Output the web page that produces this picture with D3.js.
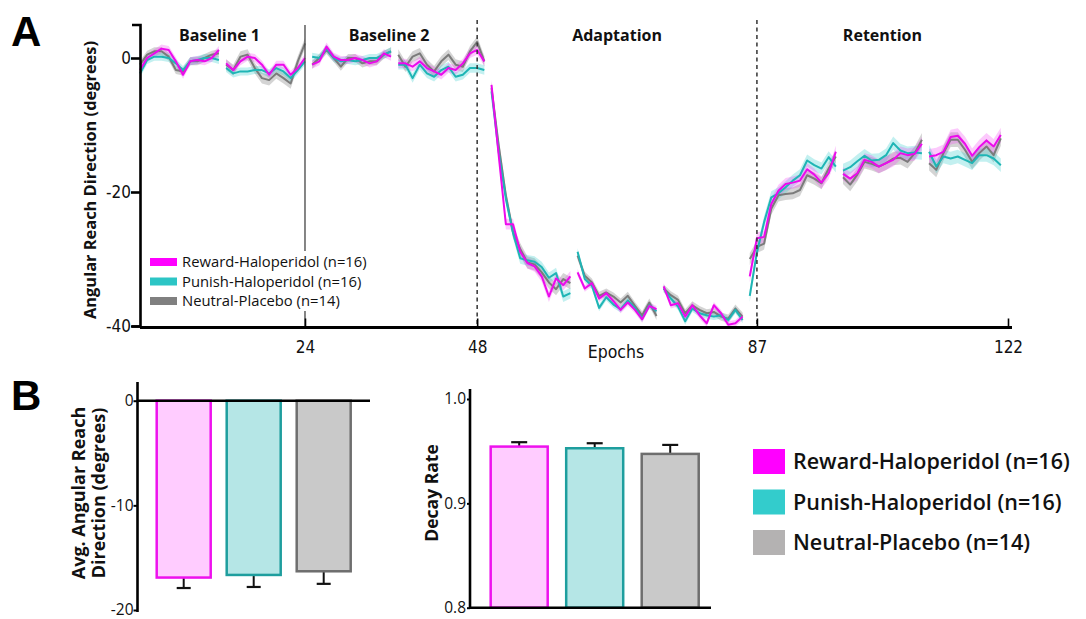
<!DOCTYPE html>
<html><head><meta charset="utf-8">
<script src="https://cdn.jsdelivr.net/npm/d3@7"></script>
<style>body{margin:0;background:#fff}svg{display:block}</style>
</head><body><svg id="c" width="1086" height="619"></svg>
<script>
// ---------- DATA ----------
const groups = ["Reward-Haloperidol (n=16)", "Punish-Haloperidol (n=16)", "Neutral-Placebo (n=14)"];
const segStarts = [1, 13, 25, 37, 50, 62, 74, 86, 99, 111];
const phaseLabels = ["Baseline 1", "Baseline 2", "Adaptation", "Retention"];
const phaseBounds = [1, 24, 48, 87, 122];
const xTicks = [24, 48, 87, 122];
const yTicksA = [0, -20, -40];

const rewardSeg = [
  [-1.8, 0, 0.7, 1.4, 1.2, -0.5, -2.5, -0.5, -0.3, -0.5, 0, 1.2],
  [-0.8, -1.8, -0.5, 0.2, 0, -1.0, -2.5, -1.0, -1.0, -2.5, -1.5, 0],
  [-1.0, -0.5, 1.7, 0.2, -0.3, -0.3, 0, -0.3, -0.8, -0.5, 0.7, 0.2],
  [-0.8, -0.8, -1.3, -0.5, -1.5, -2.0, -2.5, -1.5, -1.8, -0.8, 0.7, 1.2, -0.5],
  [-4.0, -14.5, -24.8, -24.8, -28.9, -30.6, -31.1, -32.6, -35.6, -32.9, -33.9, -32.6],
  [-32.0, -34.4, -33.6, -35.9, -35.1, -36.3, -37.6, -36.5, -37.6, -39.0, -37.0, -37.5],
  [-34.1, -36.9, -36.6, -38.6, -36.9, -38.4, -39.6, -36.9, -38.1, -39.8, -39.6, -38.6],
  [-32.6, -26.9, -26.7, -21.8, -19.8, -18.8, -18.6, -18.3, -16.6, -17.4, -18.6, -17.2, -14.0],
  [-17.3, -18.0, -17.2, -15.2, -15.5, -16.2, -15.7, -15.2, -14.2, -14.5, -14.3, -12.8],
  [-14.7, -14.5, -14.0, -11.8, -11.6, -12.8, -14.6, -13.3, -12.3, -13.2, -11.5]
];
const punishSeg = [
  [-2.3, -0.3, 0.2, 0.2, 0, -0.8, -1.8, -0.5, -0.3, 0, 0, -0.3],
  [-1.5, -2.3, -2.0, -2.0, -1.8, -1.8, -2.3, -1.5, -2.0, -3.0, -1.8, -0.5],
  [0.2, 0, 1.4, 0, -0.5, -0.3, -0.5, -0.3, 0, 0, 0.5, 1.0],
  [-1.0, -1.0, -3.0, -1.0, -2.3, -2.8, -1.8, -1.3, -2.8, -2.5, -1.5, -1.5, -1.8],
  [-5.0, -14.0, -21.0, -26.1, -29.9, -30.2, -30.4, -31.2, -32.8, -32.1, -35.6, -35.1],
  [-28.9, -33.0, -34.0, -37.3, -35.7, -36.8, -37.5, -36.2, -37.3, -38.9, -36.9, -37.8],
  [-34.4, -35.9, -37.1, -39.3, -37.4, -38.1, -38.4, -38.6, -38.4, -39.1, -37.6, -39.1],
  [-35.5, -29.0, -24.5, -20.8, -20.2, -19.3, -18.3, -17.5, -15.3, -16.0, -16.5, -14.8, -16.2],
  [-16.8, -16.3, -15.4, -14.6, -15.3, -15.2, -14.5, -12.7, -13.8, -14.2, -14.1, -14.2],
  [-14.0, -16.2, -14.7, -15.0, -14.7, -15.2, -15.7, -14.5, -14.5, -15.0, -16.0]
];
const neutralSeg = [
  [-1.0, 0.5, 1.0, 1.0, 0.2, -1.8, -2.0, -0.5, -0.5, 0, 0.5, 0.7],
  [-1.0, -1.8, 0.2, 0.5, -1.5, -3.0, -3.3, -2.3, -3.0, -3.8, -0.5, 2.2],
  [-1.0, 0, 1.2, 0, -1.3, 0, 0, -0.8, -0.5, -0.5, 0.5, 1.0],
  [0.5, -1.3, 0.2, 0.7, -1.0, -2.0, -0.5, 0.5, -1.0, -1.3, 1.0, 2.4, -0.5],
  [-4.5, -13.0, -20.5, -26.0, -28.5, -30.5, -30.8, -32.0, -33.5, -34.5, -33.0, -33.6],
  [-29.5, -32.5, -33.5, -35.5, -35.0, -35.6, -36.5, -35.5, -37.0, -38.4, -36.5, -38.5],
  [-34.4, -35.4, -36.1, -38.1, -36.9, -37.6, -38.1, -37.9, -38.6, -38.9, -37.4, -38.6],
  [-30.0, -28.2, -27.7, -22.5, -20.5, -20.3, -20.2, -19.7, -17.5, -18.0, -18.7, -16.5, -14.7],
  [-17.8, -18.9, -17.4, -15.5, -15.8, -16.2, -15.7, -15.0, -14.9, -15.5, -14.2, -12.2],
  [-15.7, -16.7, -14.2, -12.2, -12.2, -13.7, -15.5, -14.2, -13.2, -14.5, -12.0]
];
// standard error per segment (band half-width, degrees)
const rewardSE = [0.6, 0.6, 0.6, 0.7, 0.8, 0.5, 0.5, 0.9, 1.0, 1.1];
const punishSE = [0.6, 0.6, 0.6, 0.7, 0.8, 0.5, 0.5, 0.9, 1.0, 1.0];
const neutralSE = [0.6, 0.8, 0.6, 0.8, 0.9, 0.6, 0.6, 0.9, 1.0, 1.1];

const avgReach = [-16.9, -16.65, -16.3];
const avgReachErr = [1.0, 1.15, 1.2];
const yTicksB1 = [0, -10, -20];
const decayRate = [0.9544, 0.9528, 0.9474];
const decayErr = [0.0042, 0.0048, 0.0086];
const yTicksB2 = [1.0, 0.9, 0.8];

// ---------- STYLE ----------
const lineCol = ["#ec0aec", "#1fb5b5", "#7b7b7b"];
const bandCol = ["rgba(245,60,245,0.28)", "rgba(40,200,200,0.28)", "rgba(120,120,120,0.32)"];
const swatchTop = ["#ff00ff", "#2cc5c5", "#808080"];
const barFill = ["#ffccff", "#b5e6e6", "#c9c9c9"];
const barStroke = ["#ee11ee", "#1e9e9e", "#6e6e6e"];
const swatchB = ["#ff00ff", "#33cccc", "#b4b2b2"];
const FONT = "'Open Sans', 'DejaVu Sans', sans-serif";
const NARROW = "'Liberation Sans Narrow', 'DejaVu Sans Condensed', 'Open Sans', sans-serif";
const plainNum = d => String(d);

const svg = d3.select("#c");

// ---------- PANEL A ----------
const x = d3.scaleLinear().domain([1, 122]).range([140, 1008]);
const y = d3.scaleLinear().domain([-40, 5]).range([326, 24.5]);

const series = [
  {seg: neutralSeg, se: neutralSE, i: 2},
  {seg: punishSeg, se: punishSE, i: 1},
  {seg: rewardSeg, se: rewardSE, i: 0}
];
const gA = svg.append("g");
const area = d3.area().x(d => x(d.e)).y0(d => y(d.v - d.s)).y1(d => y(d.v + d.s));
const line = d3.line().x(d => x(d.e)).y(d => y(d.v));
series.forEach(s => {
  s.seg.forEach((vals, k) => {
    const pts = vals.map((v, j) => ({e: segStarts[k] + j, v: v, s: s.se[k]}));
    gA.append("path").attr("d", area(pts)).attr("fill", bandCol[s.i]).attr("stroke", "none");
  });
});
series.forEach(s => {
  s.seg.forEach((vals, k) => {
    const pts = vals.map((v, j) => ({e: segStarts[k] + j, v: v}));
    gA.append("path").attr("d", line(pts)).attr("fill", "none")
      .attr("stroke", lineCol[s.i]).attr("stroke-width", 2).attr("stroke-linejoin", "round");
  });
});

// phase separators
svg.append("line").attr("x1", x(24)).attr("x2", x(24)).attr("y1", 25).attr("y2", 327)
  .attr("stroke", "#444").attr("stroke-width", 1.3);
[48, 87].forEach(e => {
  svg.append("line").attr("x1", x(e)).attr("x2", x(e)).attr("y1", 20).attr("y2", 327)
    .attr("stroke", "#333").attr("stroke-width", 1.5).attr("stroke-dasharray", "4,3.5");
});

// phase labels
phaseLabels.forEach((t, i) => {
  const off = i === 0 ? -3 : (i === 1 ? -2 : 0);
  svg.append("text").attr("x", (x(phaseBounds[i]) + x(phaseBounds[i + 1])) / 2 + off).attr("y", 41)
    .attr("text-anchor", "middle").attr("font-family", FONT).attr("font-weight", 700)
    .attr("font-size", 16).attr("fill", "#111").text(t);
});

// y axis A
const yAx = svg.append("g").attr("transform", "translate(140,0)")
  .call(d3.axisLeft(y).tickValues(yTicksA).tickFormat(plainNum).tickSize(9).tickSizeOuter(8).tickPadding(0));
yAx.select(".domain").attr("stroke", "#000").attr("stroke-width", 2.6);
yAx.selectAll(".tick line").attr("stroke", "#000").attr("stroke-width", 2.6);
yAx.selectAll(".tick text").attr("font-family", NARROW).attr("font-size", 17).attr("fill", "#111");

// x axis A
const xAx = svg.append("g").attr("transform", "translate(0,327.5)")
  .call(d3.axisBottom(x).tickValues(xTicks).tickSize(-9).tickSizeOuter(0).tickPadding(13));
xAx.select(".domain").attr("stroke", "#000").attr("stroke-width", 3).attr("d", `M140,0H${x(122) + 4}`);
xAx.selectAll(".tick line").attr("stroke", "#000").attr("stroke-width", 1.6);
xAx.selectAll(".tick text").attr("font-family", NARROW).attr("font-size", 17).attr("fill", "#111");
svg.append("text").attr("x", 616).attr("y", 358).attr("text-anchor", "middle")
  .attr("font-family", NARROW).attr("font-size", 17.5).attr("fill", "#111").text("Epochs");

// y label A
svg.append("text").attr("transform", "translate(96,180) rotate(-90)").attr("text-anchor", "middle")
  .attr("font-family", FONT).attr("font-weight", 700).attr("font-size", 16.4).attr("fill", "#111")
  .text("Angular Reach Direction (degrees)");

// legend A
const legA = svg.append("g");
legA.append("rect").attr("x", 146).attr("y", 251).attr("width", 230).attr("height", 60).attr("fill", "#fff");
groups.forEach((g, i) => {
  const cy = 262 + i * 19.5;
  legA.append("rect").attr("x", 150).attr("y", cy - 4).attr("width", 27).attr("height", 8).attr("fill", swatchTop[i]);
  legA.append("text").attr("x", 182).attr("y", cy + 5).attr("font-family", FONT).attr("font-size", 14.8)
    .attr("fill", "#111").text(g);
});

// panel letters
svg.append("text").attr("x", 11).attr("y", 46).attr("font-family", "'Liberation Sans', Arial, sans-serif")
  .attr("font-weight", 700).attr("font-size", 42).attr("fill", "#000").text("A");
svg.append("text").attr("x", 11).attr("y", 410).attr("font-family", "'Liberation Sans', Arial, sans-serif")
  .attr("font-weight", 700).attr("font-size", 42).attr("fill", "#000").text("B");

// ---------- PANEL B (left) ----------
const yB1 = d3.scaleLinear().domain([-20, 0]).range([610, 400.7]);
const xB1 = d3.scaleBand().domain(groups).range([147.7, 359.7]).paddingInner(0.2286).paddingOuter(0.1286);
const gB1 = svg.append("g");
groups.forEach((g, i) => {
  const bx = xB1(g), bw = xB1.bandwidth(), cx = bx + bw / 2;
  const bottom = yB1(avgReach[i]);
  const eb = yB1(avgReach[i] - avgReachErr[i]);
  gB1.append("line").attr("x1", cx).attr("x2", cx).attr("y1", bottom).attr("y2", eb)
    .attr("stroke", "#111").attr("stroke-width", 2);
  gB1.append("line").attr("x1", cx - 7).attr("x2", cx + 7).attr("y1", eb).attr("y2", eb)
    .attr("stroke", "#111").attr("stroke-width", 2.2);
  gB1.append("rect").attr("x", bx).attr("y", yB1(0)).attr("width", bw).attr("height", bottom - yB1(0))
    .attr("fill", barFill[i]).attr("stroke", barStroke[i]).attr("stroke-width", 2.5);
});
svg.append("line").attr("x1", 137).attr("x2", 370).attr("y1", yB1(0)).attr("y2", yB1(0))
  .attr("stroke", "#000").attr("stroke-width", 2.4);
const yB1Ax = svg.append("g").attr("transform", "translate(137.5,0)")
  .call(d3.axisLeft(yB1).tickValues(yTicksB1).tickFormat(plainNum).tickSize(4).tickSizeOuter(0).tickPadding(0));
yB1Ax.select(".domain").attr("stroke", "#000").attr("stroke-width", 2.6).attr("d", "M0,382V612");
yB1Ax.selectAll(".tick line").attr("stroke", "#000").attr("stroke-width", 2);
yB1Ax.selectAll(".tick text").attr("font-family", FONT).attr("font-size", 15.5).attr("fill", "#111");
const yl1 = svg.append("text").attr("transform", "translate(0,493) rotate(-90)").attr("text-anchor", "middle")
  .attr("font-family", FONT).attr("font-weight", 700).attr("font-size", 18).attr("fill", "#111");
yl1.append("tspan").attr("x", 0).attr("y", 85).text("Avg. Angular Reach");
yl1.append("tspan").attr("x", 0).attr("y", 105).text("Direction (degrees)");

// ---------- PANEL B (right) ----------
const yB2 = d3.scaleLinear().domain([0.8, 1.0]).range([607.7, 399]);
const xB2 = d3.scaleBand().domain(groups).range([478, 711.4]).paddingInner(0.245).paddingOuter(0.168);
const gB2 = svg.append("g");
groups.forEach((g, i) => {
  const bx = xB2(g), bw = xB2.bandwidth(), cx = bx + bw / 2;
  const top = yB2(decayRate[i]);
  const et = yB2(decayRate[i] + decayErr[i]);
  gB2.append("line").attr("x1", cx).attr("x2", cx).attr("y1", top).attr("y2", et).attr("stroke", "#111").attr("stroke-width", 2);
  gB2.append("line").attr("x1", cx - 8).attr("x2", cx + 8).attr("y1", et).attr("y2", et).attr("stroke", "#111").attr("stroke-width", 2.2);
  gB2.append("rect").attr("x", bx).attr("y", top).attr("width", bw).attr("height", yB2(0.8) - top)
    .attr("fill", barFill[i]).attr("stroke", barStroke[i]).attr("stroke-width", 2.5);
});
svg.append("line").attr("x1", 470).attr("x2", 711).attr("y1", yB2(0.8)).attr("y2", yB2(0.8))
  .attr("stroke", "#000").attr("stroke-width", 2.6);
const yB2Ax = svg.append("g").attr("transform", "translate(470,0)")
  .call(d3.axisLeft(yB2).tickValues(yTicksB2).tickFormat(d3.format(".1f")).tickSize(3).tickSizeOuter(0).tickPadding(1));
yB2Ax.select(".domain").attr("stroke", "#000").attr("stroke-width", 2.6).attr("d", "M0,389V609");
yB2Ax.selectAll(".tick line").attr("stroke", "#000").attr("stroke-width", 2);
yB2Ax.selectAll(".tick text").attr("font-family", FONT).attr("font-size", 15.5).attr("fill", "#111");
svg.append("text").attr("transform", "translate(438,493) rotate(-90)").attr("text-anchor", "middle")
  .attr("font-family", FONT).attr("font-weight", 700).attr("font-size", 17.5).attr("fill", "#111").text("Decay Rate");

// ---------- LEGEND B ----------
groups.forEach((g, i) => {
  const ty = 449 + i * 40.5;
  svg.append("rect").attr("x", 753).attr("y", ty).attr("width", 32).attr("height", 25).attr("fill", swatchB[i]);
  svg.append("text").attr("x", 793).attr("y", ty + 20).attr("font-family", FONT).attr("font-weight", 600)
    .attr("font-size", 21.5).attr("fill", "#111").text(g);
});
</script>
</body></html>
